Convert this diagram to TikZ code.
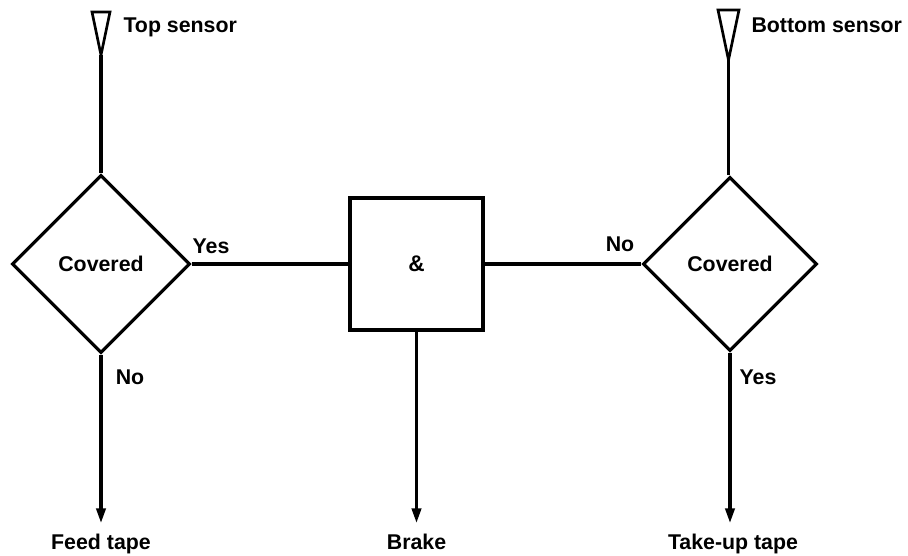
\documentclass[tikz,border=0pt]{standalone}
\usepackage{fontspec}
\setmainfont{Liberation Sans}
\usetikzlibrary{shapes.geometric,arrows.meta}
\begin{document}
\begin{tikzpicture}[x=0.75pt,y=-0.75pt,
  line width=2.3pt,
  dec/.style={draw,diamond,aspect=1,inner sep=0pt,minimum width=#1*0.75pt,minimum height=#1*0.75pt,font=\fontsize{16}{19}\selectfont\bfseries},
  gate/.style={draw,rectangle,inner sep=0pt,minimum width=133*0.75pt,minimum height=132*0.75pt,font=\fontsize{17}{20}\selectfont\bfseries},
  lbl/.style={font=\fontsize{16}{19}\selectfont\bfseries,inner sep=0pt,anchor=base},
  arr/.style={-{Triangle[length=11pt,width=7pt]}},
  sens/.style={line width=2pt,line join=miter}]
\useasboundingbox (0,0) rectangle (908,556);
% sensors
\draw[sens] (92,12) -- (110,12) -- (101,55) -- cycle;
\coordinate (ts) at (101,55);
\draw[sens] (718,10) -- (739,10) -- (728.5,60) -- cycle;
\coordinate (bs) at (728.5,60);
\node[lbl,anchor=base west] (tsl) at (122,33) {Top sensor};
\node[lbl,anchor=base west] (bsl) at (750,33) {Bottom sensor};
% decisions
\node[dec=178] (d1) at (101,264) {Covered};
\node[dec=174] (d2) at (730,264) {Covered};
\node[gate] (g) at (416.5,264) {\&};
\draw (ts) -- (d1.north);
\draw (bs) -- (bs |- d2.north);
\draw (d1.east) -- (g.west);
\draw (g.east) -- (d2.west);
% outputs
\node[lbl] (ft) at (101,549) {Feed tape};
\node[lbl] (br) at (416.5,549) {Brake};
\node[lbl] (tu) at (733,549) {Take-up tape};
\coordinate (a1) at (101,523);
\coordinate (a2) at (416.5,523);
\coordinate (a3) at (730,523);
\draw[arr] (d1.south) -- (a1);
\draw[arr] (g.south) -- (a2);
\draw[arr] (d2.south) -- (a3);
% branch labels
\node[lbl] (y1) at (211,254) {Yes};
\node[lbl] (n1) at (130,384) {No};
\node[lbl] (n2) at (620,252) {No};
\node[lbl] (y2) at (758,384) {Yes};
\end{tikzpicture}
\end{document}
